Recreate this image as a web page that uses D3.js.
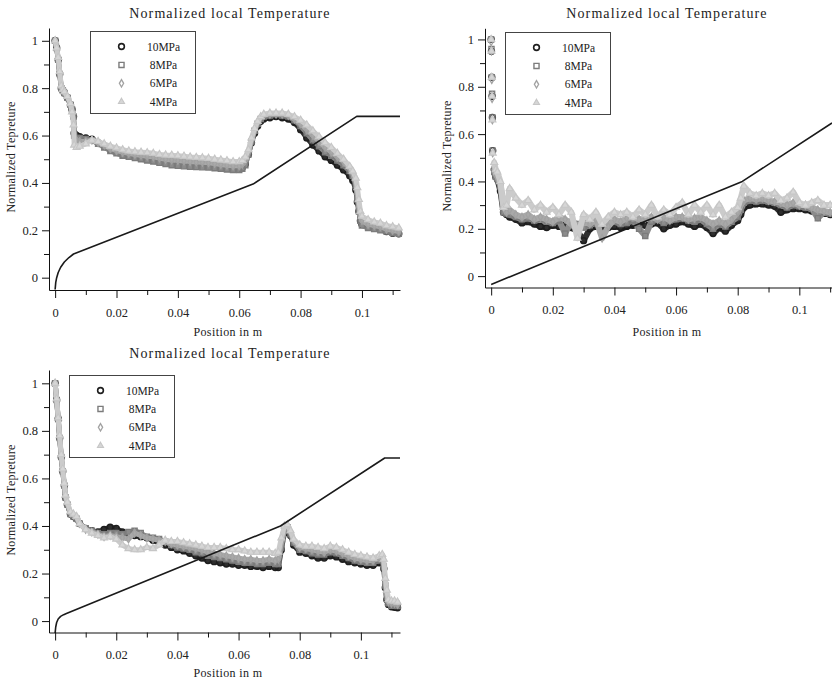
<!DOCTYPE html>
<html>
<head>
<meta charset="utf-8">
<script src="https://cdn.jsdelivr.net/npm/d3@7"></script>
<style>
	body { margin: 0; background: #fff; }
	svg text { font-family: "Liberation Serif", "DejaVu Serif", serif; fill: #222; }
</style>
</head>
<body>
<script>
"use strict";

// legend / series names
const seriesNames = ["10MPa", "8MPa", "6MPa", "4MPa"];

// tick values and labels
const xMajor = [0, 0.02, 0.04, 0.06, 0.08, 0.1];
const xTickLabels = ["0", "0.02", "0.04", "0.06", "0.08", "0.1"];
const xMinor = [0.01, 0.03, 0.05, 0.07, 0.09, 0.11];
const yMajor = [0, 0.2, 0.4, 0.6, 0.8, 1];
const yTickLabels = ["0", "0.2", "0.4", "0.6", "0.8", "1"];
const yMinor = [0.1, 0.3, 0.5, 0.7, 0.9];

const titleText = "Normalized local Temperature";
const xTitleText = "Position in m";
const yTitleText = "Normalized Tepreture";

// ---- panel 1 (top left) ----
const posA = [
	0, 0.0005, 0.001, 0.0015, 0.002, 0.0025, 0.003, 0.004, 0.005, 0.0055,
	0.006, 0.0062, 0.007, 0.008, 0.010, 0.012, 0.014, 0.016, 0.018, 0.020,
	0.022, 0.024, 0.026, 0.028, 0.030, 0.032, 0.034, 0.036, 0.038, 0.040,
	0.042, 0.044, 0.046, 0.048, 0.050, 0.052, 0.054, 0.056, 0.058, 0.060,
	0.061, 0.062, 0.063, 0.064, 0.065, 0.066, 0.067, 0.068, 0.070, 0.072,
	0.074, 0.076, 0.078, 0.080, 0.082, 0.084, 0.086, 0.088, 0.090, 0.092,
	0.094, 0.096, 0.097, 0.098, 0.0985, 0.099, 0.0995, 0.100, 0.102, 0.104,
	0.106, 0.108, 0.110, 0.112
];
const a10 = [
	1.0, 0.97, 0.92, 0.86, 0.80, 0.79, 0.78, 0.76, 0.73, 0.71,
	0.68, 0.61, 0.60, 0.595, 0.59, 0.585, 0.57, 0.555, 0.54, 0.53,
	0.52, 0.515, 0.51, 0.505, 0.50, 0.495, 0.49, 0.487, 0.483, 0.48,
	0.478, 0.477, 0.476, 0.476, 0.474, 0.47, 0.466, 0.462, 0.46, 0.46,
	0.465, 0.48, 0.52, 0.57, 0.61, 0.64, 0.66, 0.67, 0.675, 0.68,
	0.675, 0.67, 0.655, 0.625, 0.59, 0.56, 0.535, 0.51, 0.495, 0.475,
	0.455, 0.43, 0.41, 0.37, 0.32, 0.28, 0.24, 0.225, 0.215, 0.21,
	0.205, 0.195, 0.188, 0.185
];
const a8 = [
	1.0, 0.97, 0.92, 0.86, 0.80, 0.79, 0.78, 0.76, 0.73, 0.71,
	0.68, 0.60, 0.59, 0.59, 0.585, 0.58, 0.565, 0.55, 0.535, 0.525,
	0.515, 0.51, 0.505, 0.50, 0.495, 0.49, 0.485, 0.48, 0.475, 0.472,
	0.47, 0.468, 0.467, 0.466, 0.465, 0.462, 0.46, 0.457, 0.455, 0.455,
	0.46, 0.475, 0.52, 0.575, 0.62, 0.65, 0.67, 0.68, 0.685, 0.69,
	0.685, 0.68, 0.665, 0.64, 0.61, 0.58, 0.555, 0.53, 0.515, 0.495,
	0.475, 0.45, 0.43, 0.39, 0.33, 0.28, 0.24, 0.22, 0.21, 0.205,
	0.20, 0.195, 0.19, 0.185
];
const a6 = [
	1.0, 0.97, 0.925, 0.865, 0.805, 0.79, 0.78, 0.765, 0.735, 0.705,
	0.67, 0.59, 0.58, 0.575, 0.575, 0.58, 0.57, 0.56, 0.545, 0.537,
	0.53, 0.525, 0.52, 0.517, 0.513, 0.51, 0.505, 0.50, 0.497, 0.495,
	0.493, 0.49, 0.488, 0.487, 0.485, 0.482, 0.478, 0.475, 0.472, 0.472,
	0.478, 0.495, 0.53, 0.58, 0.62, 0.655, 0.675, 0.685, 0.69, 0.69,
	0.69, 0.685, 0.67, 0.65, 0.625, 0.60, 0.575, 0.55, 0.53, 0.51,
	0.49, 0.46, 0.44, 0.40, 0.35, 0.30, 0.26, 0.24, 0.225, 0.22,
	0.215, 0.205, 0.20, 0.195
];
const a4 = [
	1.0, 0.97, 0.93, 0.87, 0.81, 0.795, 0.785, 0.765, 0.735, 0.70,
	0.645, 0.56, 0.55, 0.555, 0.565, 0.58, 0.575, 0.565, 0.555, 0.548,
	0.54, 0.535, 0.532, 0.53, 0.528, 0.525, 0.52, 0.518, 0.517, 0.515,
	0.513, 0.51, 0.508, 0.506, 0.504, 0.50, 0.497, 0.494, 0.49, 0.49,
	0.495, 0.51, 0.54, 0.59, 0.63, 0.66, 0.68, 0.69, 0.695, 0.695,
	0.695, 0.69, 0.68, 0.665, 0.645, 0.62, 0.595, 0.57, 0.55, 0.525,
	0.50, 0.47, 0.45, 0.42, 0.38, 0.33, 0.28, 0.26, 0.245, 0.235,
	0.23, 0.22, 0.215, 0.21
];
const geoAx = [0, 0.0002, 0.0005, 0.001, 0.0018, 0.003, 0.0045, 0.006, 0.0645, 0.0983, 0.1124];
const geoAy = [-0.05, -0.02, 0.0, 0.022, 0.044, 0.066, 0.085, 0.1, 0.395, 0.681, 0.681];

// ---- panel 2 (top right) ----
const posB = [
	0, 0.0001, 0.0002, 0.0003, 0.0004, 0.0005, 0.001, 0.0015, 0.002, 0.003,
	0.004, 0.005, 0.006, 0.008, 0.010, 0.012, 0.014, 0.016, 0.018, 0.020,
	0.022, 0.024, 0.026, 0.028, 0.030, 0.032, 0.034, 0.036, 0.038, 0.040,
	0.042, 0.044, 0.046, 0.048, 0.050, 0.052, 0.054, 0.056, 0.058, 0.060,
	0.062, 0.064, 0.066, 0.068, 0.070, 0.072, 0.074, 0.076, 0.078, 0.080,
	0.081, 0.082, 0.084, 0.086, 0.088, 0.090, 0.092, 0.094, 0.096, 0.098,
	0.100, 0.102, 0.104, 0.106, 0.108, 0.110
];
const b10 = [
	1.0, 0.95, 0.84, 0.76, 0.67, 0.53, 0.45, 0.42, 0.41, 0.36,
	0.27, 0.26, 0.25, 0.24, 0.225, 0.23, 0.22, 0.21, 0.205, 0.215,
	0.21, 0.22, 0.205, 0.19, 0.15, 0.20, 0.21, 0.20, 0.205, 0.21,
	0.205, 0.21, 0.215, 0.22, 0.215, 0.22, 0.225, 0.20, 0.215, 0.22,
	0.23, 0.22, 0.21, 0.22, 0.205, 0.18, 0.205, 0.19, 0.215, 0.235,
	0.26, 0.29, 0.30, 0.305, 0.305, 0.30, 0.295, 0.27, 0.28, 0.285,
	0.285, 0.28, 0.275, 0.27, 0.265, 0.26
];
const b8 = [
	1.0, 0.96, 0.84, 0.77, 0.67, 0.53, 0.44, 0.42, 0.41, 0.38,
	0.27, 0.265, 0.26, 0.25, 0.24, 0.245, 0.235, 0.24, 0.23, 0.225,
	0.235, 0.18, 0.23, 0.22, 0.205, 0.215, 0.225, 0.22, 0.225, 0.23,
	0.22, 0.225, 0.235, 0.20, 0.17, 0.23, 0.24, 0.225, 0.235, 0.24,
	0.245, 0.235, 0.23, 0.24, 0.22, 0.20, 0.22, 0.21, 0.23, 0.25,
	0.28, 0.31, 0.32, 0.315, 0.32, 0.315, 0.31, 0.30, 0.29, 0.30,
	0.295, 0.29, 0.285, 0.245, 0.27, 0.265
];
const b6 = [
	0.99, 0.95, 0.83, 0.75, 0.66, 0.52, 0.46, 0.43, 0.42, 0.39,
	0.30, 0.27, 0.28, 0.26, 0.25, 0.26, 0.24, 0.25, 0.24, 0.23,
	0.25, 0.24, 0.22, 0.21, 0.23, 0.22, 0.24, 0.16, 0.21, 0.24,
	0.23, 0.245, 0.25, 0.24, 0.245, 0.25, 0.24, 0.25, 0.235, 0.25,
	0.25, 0.24, 0.245, 0.25, 0.235, 0.22, 0.235, 0.22, 0.24, 0.27,
	0.30, 0.32, 0.33, 0.325, 0.33, 0.32, 0.315, 0.31, 0.30, 0.31,
	0.30, 0.30, 0.29, 0.28, 0.275, 0.27
];
const b4 = [
	1.0, 0.95, 0.84, 0.76, 0.66, 0.52, 0.48, 0.45, 0.44, 0.40,
	0.29, 0.30, 0.37, 0.33, 0.30, 0.32, 0.28, 0.30, 0.27, 0.29,
	0.26, 0.30, 0.27, 0.16, 0.26, 0.24, 0.27, 0.22, 0.25, 0.27,
	0.26, 0.27, 0.25, 0.28, 0.26, 0.30, 0.25, 0.28, 0.26, 0.29,
	0.31, 0.26, 0.30, 0.27, 0.30, 0.26, 0.30, 0.25, 0.27, 0.29,
	0.33, 0.38, 0.35, 0.34, 0.35, 0.34, 0.35, 0.32, 0.33, 0.355,
	0.31, 0.30, 0.31, 0.32, 0.30, 0.30
];
const geoBx = [0, 0.0815, 0.1106];
const geoBy = [-0.035, 0.40, 0.647];

// ---- panel 3 (bottom left) ----
const posC = [
	0, 0.0005, 0.001, 0.0015, 0.002, 0.0025, 0.003, 0.0034, 0.004, 0.005,
	0.006, 0.007, 0.008, 0.010, 0.012, 0.014, 0.016, 0.018, 0.020, 0.022,
	0.024, 0.026, 0.028, 0.030, 0.032, 0.034, 0.036, 0.038, 0.040, 0.042,
	0.044, 0.046, 0.048, 0.050, 0.052, 0.054, 0.056, 0.058, 0.060, 0.062,
	0.064, 0.066, 0.068, 0.070, 0.072, 0.073, 0.074, 0.075, 0.076, 0.077,
	0.078, 0.080, 0.082, 0.084, 0.086, 0.088, 0.090, 0.092, 0.094, 0.096,
	0.098, 0.100, 0.102, 0.104, 0.106, 0.107, 0.1075, 0.108, 0.1085, 0.109,
	0.110, 0.111, 0.112
];
const c10 = [
	1.0, 0.93, 0.85, 0.77, 0.69, 0.63, 0.57, 0.52, 0.49, 0.45,
	0.44, 0.43, 0.41, 0.39, 0.38, 0.375, 0.385, 0.395, 0.39, 0.375,
	0.365, 0.36, 0.355, 0.35, 0.34, 0.33, 0.32, 0.31, 0.30, 0.295,
	0.285, 0.275, 0.265, 0.255, 0.25, 0.245, 0.24, 0.24, 0.235, 0.235,
	0.23, 0.23, 0.225, 0.23, 0.225, 0.225, 0.30, 0.37, 0.39, 0.36,
	0.32, 0.29, 0.285, 0.275, 0.265, 0.265, 0.275, 0.27, 0.26, 0.25,
	0.245, 0.24, 0.235, 0.235, 0.245, 0.25, 0.22, 0.14, 0.09, 0.07,
	0.06, 0.058, 0.056
];
const c8 = [
	1.0, 0.93, 0.85, 0.77, 0.69, 0.63, 0.57, 0.52, 0.49, 0.45,
	0.44, 0.43, 0.41, 0.39, 0.38, 0.37, 0.365, 0.37, 0.37, 0.365,
	0.375, 0.38, 0.37, 0.355, 0.35, 0.345, 0.335, 0.32, 0.31, 0.305,
	0.30, 0.29, 0.285, 0.275, 0.27, 0.265, 0.26, 0.255, 0.25, 0.245,
	0.245, 0.24, 0.24, 0.245, 0.24, 0.24, 0.31, 0.38, 0.395, 0.365,
	0.33, 0.30, 0.295, 0.285, 0.28, 0.28, 0.29, 0.285, 0.275, 0.265,
	0.255, 0.25, 0.245, 0.245, 0.255, 0.26, 0.23, 0.15, 0.10, 0.075,
	0.065, 0.065, 0.063
];
const c6 = [
	1.0, 0.935, 0.855, 0.775, 0.695, 0.635, 0.575, 0.525, 0.495, 0.455,
	0.445, 0.435, 0.41, 0.385, 0.375, 0.365, 0.355, 0.36, 0.355, 0.35,
	0.345, 0.37, 0.36, 0.35, 0.345, 0.34, 0.335, 0.325, 0.32, 0.315,
	0.31, 0.305, 0.30, 0.29, 0.285, 0.28, 0.275, 0.27, 0.265, 0.26,
	0.26, 0.255, 0.255, 0.26, 0.255, 0.26, 0.33, 0.39, 0.40, 0.375,
	0.34, 0.31, 0.305, 0.30, 0.295, 0.29, 0.30, 0.295, 0.285, 0.275,
	0.265, 0.26, 0.255, 0.255, 0.265, 0.265, 0.24, 0.16, 0.11, 0.08,
	0.075, 0.075, 0.07
];
const c4 = [
	1.0, 0.935, 0.855, 0.78, 0.70, 0.64, 0.58, 0.53, 0.50, 0.46,
	0.45, 0.44, 0.41, 0.385, 0.37, 0.36, 0.35, 0.355, 0.345, 0.32,
	0.305, 0.30, 0.30, 0.31, 0.305, 0.32, 0.34, 0.335, 0.335, 0.33,
	0.325, 0.32, 0.315, 0.31, 0.31, 0.31, 0.305, 0.30, 0.30, 0.295,
	0.29, 0.29, 0.29, 0.29, 0.285, 0.29, 0.35, 0.40, 0.405, 0.38,
	0.345, 0.32, 0.315, 0.315, 0.31, 0.305, 0.315, 0.31, 0.30, 0.29,
	0.28, 0.275, 0.27, 0.265, 0.275, 0.28, 0.26, 0.18, 0.13, 0.09,
	0.085, 0.085, 0.08
];
const geoCx = [0, 0.0002, 0.0005, 0.001, 0.0018, 0.0028, 0.0037, 0.0737, 0.1078, 0.1128];
const geoCy = [-0.05, -0.025, -0.006, 0.009, 0.02, 0.027, 0.032, 0.40, 0.686, 0.686];

// marker look per series
const seriesStyle = [
	{ symbol: d3.symbolCircle, size: 26, stroke: "#1e1e1e", fill: "none", sw: 1.6, band: "#2e2e2e" },
	{ symbol: d3.symbolSquare, size: 26, stroke: "#7c7c7c", fill: "none", sw: 1.4, band: "#8c8c8c" },
	{ symbol: d3.symbolDiamond, size: 16, stroke: "#a2a2a2", fill: "none", sw: 1.3, band: "#a9a9a9" },
	{ symbol: d3.symbolTriangle, size: 22, stroke: "#c6c6c6", fill: "#d6d6d6", sw: 1.1, band: "#cbcbcb" }
];

const panels = [
	{
		pos: posA, series: [a10, a8, a6, a4], geoX: geoAx, geoY: geoAy,
		xDomain: [-0.002, 0.1124], xRange: [49, 400],
		yDomain: [-0.052, 1.054], yRange: [290, 28],
		bandFrom: 0, bandWidth: 5,
		title: [230, 18], xTitle: [228, 336], yTitle: [15, 157], legend: [90.5, 31.5]
	},
	{
		pos: posB, series: [b10, b8, b6, b4], geoX: geoBx, geoY: geoBy,
		xDomain: [-0.002, 0.1106], xRange: [485, 832],
		yDomain: [-0.048, 1.047], yRange: [287.5, 28.3],
		bandFrom: 0.0008, bandWidth: 6,
		title: [667, 18], xTitle: [667, 336], yTitle: [451, 156], legend: [505.5, 32.5]
	},
	{
		pos: posC, series: [c10, c8, c6, c4], geoX: geoCx, geoY: geoCy,
		xDomain: [-0.002, 0.1128], xRange: [49, 400],
		yDomain: [-0.048, 1.056], yRange: [632.5, 370],
		bandFrom: 0, bandWidth: 5,
		title: [230, 358], xTitle: [228, 677], yTitle: [15, 500], legend: [69.5, 375.5]
	}
];

const svg = d3.select("body")
	.append("svg")
	.attr("width", 832)
	.attr("height", 684);

function drawPanel(p) {
	const x = d3.scaleLinear().domain(p.xDomain).range(p.xRange);
	const y = d3.scaleLinear().domain(p.yDomain).range(p.yRange);
	const g = svg.append("g");

	const line = d3.line()
		.x(d => x(d.x))
		.y(d => y(d.y));

	// measured series, 10MPa first so 4MPa ends on top
	p.series.forEach((vals, si) => {
		const st = seriesStyle[si];
		const pts = p.pos.map((xv, i) => ({ x: xv, y: vals[i] })).filter(d => d.y != null);
		g.append("path")
			.datum(pts.filter(d => d.x >= p.bandFrom))
			.attr("d", line)
			.attr("fill", "none")
			.attr("stroke", st.band)
			.attr("stroke-width", p.bandWidth)
			.attr("stroke-linejoin", "round")
			.attr("stroke-linecap", "round");
		g.append("g").selectAll("path")
			.data(pts)
			.join("path")
			.attr("transform", d => `translate(${x(d.x)},${y(d.y)})`)
			.attr("d", d3.symbol(st.symbol, st.size))
			.attr("fill", st.fill)
			.attr("stroke", st.stroke)
			.attr("stroke-width", st.sw);
	});

	// geometry line (straight segments)
	const geo = p.geoX.map((xv, i) => ({ x: xv, y: p.geoY[i] }));
	g.append("path")
		.datum(geo)
		.attr("d", line)
		.attr("fill", "none")
		.attr("stroke", "#1a1a1a")
		.attr("stroke-width", 1.6)
		.attr("stroke-linejoin", "round");

	// axes
	const x0 = p.xRange[0];
	const y0 = p.yRange[0];
	const xAxis = g.append("g")
		.attr("transform", `translate(0,${y0})`)
		.call(d3.axisBottom(x).tickValues(xMajor).tickFormat((d, i) => xTickLabels[i]).tickSize(8).tickSizeOuter(0).tickPadding(10));
	g.append("g")
		.attr("transform", `translate(0,${y0})`)
		.call(d3.axisBottom(x).tickValues(xMinor).tickFormat("").tickSize(5).tickSizeOuter(0))
		.call(s => s.select(".domain").remove());
	const yAxis = g.append("g")
		.attr("transform", `translate(${x0},0)`)
		.call(d3.axisLeft(y).tickValues(yMajor).tickFormat((d, i) => yTickLabels[i]).tickSize(7).tickSizeOuter(0).tickPadding(4));
	g.append("g")
		.attr("transform", `translate(${x0},0)`)
		.call(d3.axisLeft(y).tickValues(yMinor).tickFormat("").tickSize(5).tickSizeOuter(0))
		.call(s => s.select(".domain").remove());
	g.selectAll(".tick line, .domain").attr("stroke", "#111").attr("stroke-width", 1);
	[xAxis, yAxis].forEach(a => a
		.attr("font-family", null)
		.attr("font-size", 12.5)
		.selectAll("text").attr("fill", "#333"));

	// titles
	g.append("text")
		.attr("x", p.title[0])
		.attr("y", p.title[1])
		.attr("text-anchor", "middle")
		.attr("font-size", 14)
		.attr("letter-spacing", 1.1)
		.text(titleText);
	g.append("text")
		.attr("x", p.xTitle[0])
		.attr("y", p.xTitle[1])
		.attr("text-anchor", "middle")
		.attr("font-size", 12)
		.attr("letter-spacing", 0.4)
		.attr("fill", "#333")
		.text(xTitleText);
	g.append("text")
		.attr("transform", `translate(${p.yTitle[0]},${p.yTitle[1]}) rotate(-90)`)
		.attr("text-anchor", "middle")
		.attr("font-size", 12)
		.attr("letter-spacing", 0.3)
		.attr("fill", "#333")
		.text(yTitleText);

	// legend
	const lg = g.append("g").attr("transform", `translate(${p.legend[0]},${p.legend[1]})`);
	lg.append("rect")
		.attr("width", 105)
		.attr("height", 82)
		.attr("fill", "#fff")
		.attr("stroke", "#444")
		.attr("stroke-width", 1);
	seriesNames.forEach((name, i) => {
		const st = seriesStyle[i];
		const row = lg.append("g").attr("transform", `translate(0,${15 + i * 18.4})`);
		row.append("path")
			.attr("transform", "translate(31,0)")
			.attr("d", d3.symbol(st.symbol, i === 3 ? 16 : st.size)())
			.attr("fill", st.fill)
			.attr("stroke", st.stroke)
			.attr("stroke-width", st.sw);
		row.append("text")
			.attr("x", 73)
			.attr("dy", "0.35em")
			.attr("text-anchor", "middle")
			.attr("font-size", 11.5)
			.attr("fill", "#333")
			.text(name);
	});
}

panels.forEach(drawPanel);
</script>
</body>
</html>
